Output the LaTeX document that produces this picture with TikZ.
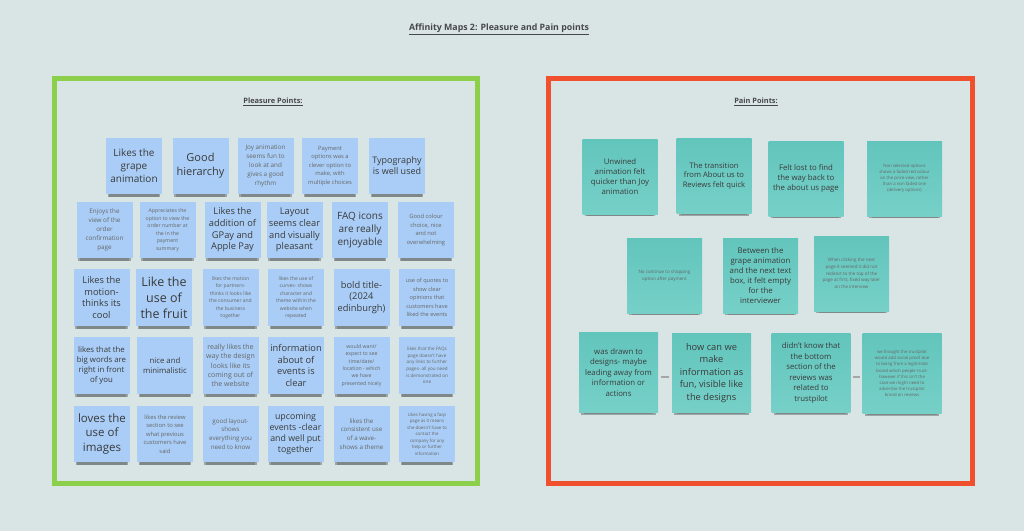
\documentclass[tikz,border=0pt]{standalone}
\usepackage{fontspec}
\setmainfont{Open Sans}
\usetikzlibrary{shadows}
\definecolor{bg}{HTML}{D9E5E5}
\definecolor{frameG}{HTML}{8BCF4B}
\definecolor{frameR}{HTML}{F0502E}
\definecolor{noteB}{HTML}{A9CDF6}
\definecolor{noteT}{HTML}{6CCBC2}
\definecolor{noteTb}{HTML}{62C5BC}
\definecolor{noteTl}{HTML}{76D0C8}
\definecolor{txtD}{HTML}{3A3A3A}
\definecolor{txtL}{HTML}{666666}
\definecolor{ttl}{HTML}{484848}
\newcommand\fz[2]{\fontsize{#1}{#2}\selectfont}
\tikzset{
  nshadow/.style={general shadow={fill=black, opacity=.28, shadow yshift=-5pt, shadow scale=.94},
                  general shadow={fill=black, opacity=.18, shadow yshift=-7pt, shadow scale=.88}},
  bnote/.style={nshadow, fill=noteB, minimum width=56pt, minimum height=56.5pt, inner sep=0pt, align=center, text=txtD},
  tnote/.style={nshadow, top color=noteTb, bottom color=noteTl, minimum width=75pt, minimum height=75pt, inner sep=0pt, align=center, text=txtD},
  tnoteL/.style={tnote, minimum width=79pt, minimum height=79.5pt},
  lt/.style={text=txtL},
  frame/.style={line width=5pt},
  head/.style={font=\bfseries\fz{7.4}{9}, text=ttl},
  link/.style={draw=black!35, line width=1.3pt}
}
\begin{document}
\begin{tikzpicture}[x=1pt,y=-1pt]
\fill[bg] (0,0) rectangle (1024,531);
\useasboundingbox (0,0) rectangle (1024,531);
% title
\node[font=\bfseries\fz{8.8}{10}, text=ttl] (title) at (499,29) {\underline{Affinity Maps 2: Pleasure and Pain points}};
% frames
\draw[frame, draw=frameG] (54,78) rectangle (477.5,483.5);
\draw[frame, draw=frameR] (548.5,78) rectangle (972,483.5);
\node[head] (hp) at (273,102) {\underline{Pleasure Points:}};
\node[head] (hn) at (756,102) {\underline{Pain Points:}};
% ---------- pleasure points ----------
% row 1
\node[bnote, font=\fz{10}{13}] (p11) at (134,166) {Likes the\\grape\\animation};
\node[bnote, font=\fz{11}{14}] (p12) at (200.5,166) {Good\\hierarchy};
\node[bnote, lt, font=\fz{6.3}{9}] (p13) at (265.5,166) {Joy animation\\seems fun to\\look at and\\gives a good\\rhythm};
\node[bnote, lt, font=\fz{5.8}{8.4}] (p14) at (330,166) {Payment\\options was a\\clever option to\\make, with\\multiple choices};
\node[bnote, font=\fz{9}{11}] (p15) at (397,166) {Typography\\is well used};
% row 2
\node[bnote, lt, font=\fz{6.3}{9}] (p21) at (104.5,230) {Enjoys the\\view of the\\order\\confirmation\\page};
\node[bnote, lt, font=\fz{5.2}{7.5}] (p22) at (167.5,230) {Appreciates the\\option to view the\\order number at\\the in the\\payment\\summary};
\node[bnote, font=\fz{9.3}{11.7}] (p23) at (232.5,230) {Likes the\\addition of\\GPay and\\Apple Pay};
\node[bnote, font=\fz{9.3}{11.7}] (p24) at (294.5,230) {Layout\\seems clear\\and visually\\pleasant};
\node[bnote, font=\fz{10}{13}] (p25) at (360,230) {FAQ icons\\are really\\enjoyable};
\node[bnote, lt, font=\fz{5.8}{8.7}] (p26) at (426,230) {Good colour\\choice, nice\\and not\\overwhelming};
% row 3
\node[bnote, font=\fz{9.3}{11.7}] (p31) at (101.5,297.5) {Likes the\\motion-\\thinks its\\cool};
\node[bnote, font=\fz{12.5}{16}] (p32) at (164,297.5) {Like the\\use of\\the fruit};
\node[bnote, lt, font=\fz{5}{7.5}] (p33) at (230.5,297.5) {likes the motion\\for partners-\\thinks it looks like\\the consumer and\\the business\\together};
\node[bnote, lt, font=\fz{5}{7.5}] (p34) at (296,297.5) {likes the use of\\curves- shows\\character and\\theme within the\\website when\\repeated};
\node[bnote, font=\fz{9.3}{11.7}] (p35) at (361.5,297.5) {bold title-\\(2024\\edinburgh)};
\node[bnote, lt, font=\fz{5.6}{8.5}] (p36) at (427,297.5) {use of quotes to\\show clear\\opinions that\\customers have\\liked the events};
% row 4
\node[bnote, font=\fz{7.8}{10}] (p41) at (101.5,365.5) {likes that the\\big words are\\right in front\\of you};
\node[bnote, font=\fz{7.8}{10}] (p42) at (165,365.5) {nice and\\minimalistic};
\node[bnote, lt, font=\fz{7}{9.3}] (p43) at (230.5,365.5) {really likes the\\way the design\\looks like its\\coming out of\\the website};
\node[bnote, font=\fz{9.3}{11.7}] (p44) at (296,365.5) {information\\about of\\events is\\clear};
\node[bnote, lt, font=\fz{5.2}{7.3}] (p45) at (361.5,365.5) {would want/\\expect to see\\time/date/\\location - which\\we have\\presented nicely};
\node[bnote, lt, font=\fz{4.6}{6.7}] (p46) at (427,365.5) {likes that the FAQs\\page doesn't have\\any links to further\\pages- all you need\\is demonstrated on\\one};
% row 5
\node[bnote, font=\fz{11.5}{14.5}] (p51) at (102,434) {loves the\\use of\\images};
\node[bnote, lt, font=\fz{5.8}{8.5}] (p52) at (165,434) {likes the review\\section to see\\what previous\\customers have\\said};
\node[bnote, lt, font=\fz{6.2}{8.7}] (p53) at (230.5,434) {good layout-\\shows\\everything you\\need to know};
\node[bnote, font=\fz{8.8}{11}] (p54) at (295.5,434) {upcoming\\events -clear\\and well put\\together};
\node[bnote, lt, font=\fz{6.2}{8.7}] (p55) at (361.5,434) {likes the\\consistent use\\of a wave-\\shows a theme};
\node[bnote, lt, font=\fz{4.4}{6.5}] (p56) at (427,434) {Likes having a faqs\\page as it means\\she doesn't have to\\contact the\\company for any\\help or further\\information};
% ---------- pain points ----------
\node[tnote, font=\fz{7.8}{10}] (r11) at (620,176.5) {Unwined\\animation felt\\quicker than Joy\\animation};
\node[tnote, font=\fz{7.6}{9.5}] (r12) at (714,176) {The transition\\from About us to\\Reviews felt quick};
\node[tnote, font=\fz{7.8}{10}] (r13) at (806,178.5) {Felt lost to find\\the way back to\\the about us page};
\node[tnote, lt, font=\fz{4.3}{6}] (r14) at (904.5,178.5) {Non selected options\\shows a faded red colour\\on the price view, rather\\than a non faded one\\(delivery options)};
\node[tnote, lt, font=\fz{4.5}{6.7}] (r21) at (664.5,275.5) {No continue to shopping\\option after payment};
\node[tnote, font=\fz{7.8}{10}] (r22) at (760.5,275.5) {Between the\\grape animation\\and the next text\\box, it felt empty\\for the\\interviewer};
\node[tnote, lt, font=\fz{4.5}{6.7}] (r23) at (851.5,273.5) {When clicking the next\\page it seemed it did not\\redirect to the top of the\\page at first, fixed way later\\on the interview};
\node[tnoteL, font=\fz{7.8}{10.5}] (r31) at (618.5,372.5) {was drawn to\\designs- maybe\\leading away from\\information or\\actions};
\node[tnoteL, font=\fz{9.3}{12.5}] (r32) at (711.5,373) {how can we\\make\\information as\\fun, visible like\\the designs};
\node[tnoteL, font=\fz{7.8}{10.5}] (r33) at (811,373) {didn't know that\\the bottom\\section of the\\reviews was\\related to\\trustpilot};
\node[tnoteL, lt, font=\fz{4.3}{6.2}] (r34) at (902,373.5) {we thought the trustpilot\\would add social proof due\\to being from a legitimate\\brand which people trust-\\however if this isn't the\\case we might need to\\advertise the trustpilot\\brand on reviews};
% connectors
\draw[link, shorten <=3pt, shorten >=3pt] (r31.east |- 0,377) -- (r32.west |- 0,377);
\draw[link, shorten <=2pt, shorten >=2pt] (r33.east |- 0,377) -- (r34.west |- 0,377);
\end{tikzpicture}
\end{document}
